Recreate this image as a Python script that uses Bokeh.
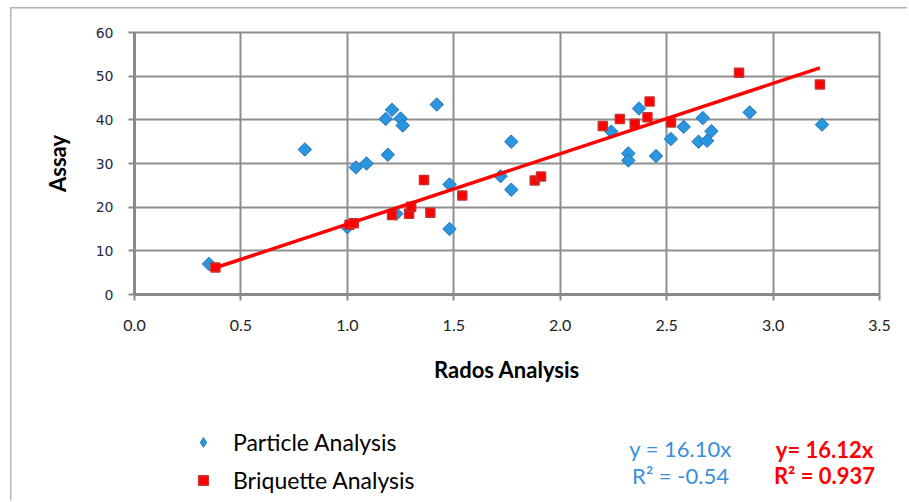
from bokeh.plotting import figure
from bokeh.layouts import column
from bokeh.models import Range1d, FixedTicker, NumeralTickFormatter, Legend, LegendItem, Label
from bokeh.embed import file_html
from bokeh.resources import INLINE
import numpy as np

# ---- data ----
particle_x = [0.35, 0.80, 1.00, 1.04, 1.09, 1.19, 1.18, 1.21, 1.25, 1.26, 1.23, 1.42,
              1.48, 1.48, 1.72, 1.77, 1.77, 2.24, 2.32, 2.32, 2.37, 2.45, 2.52, 2.58,
              2.67, 2.65, 2.69, 2.71, 2.89, 3.23]
particle_y = [7.0, 33.2, 15.4, 29.1, 30.0, 32.0, 40.2, 42.3, 40.3, 38.7, 18.5, 43.5,
              25.2, 15.0, 27.1, 35.0, 24.0, 37.3, 32.3, 30.7, 42.6, 31.7, 35.6, 38.4,
              40.4, 35.0, 35.2, 37.4, 41.7, 38.9]
briq_x = [0.38, 1.01, 1.03, 1.21, 1.29, 1.30, 1.36, 1.39, 1.54, 1.88, 1.91, 2.20,
          2.28, 2.35, 2.42, 2.41, 2.52, 2.84, 3.22]
briq_y = [6.2, 16.0, 16.3, 18.2, 18.5, 20.1, 26.2, 18.7, 22.7, 26.1, 27.0, 38.6,
          40.2, 39.1, 44.2, 40.6, 39.4, 50.8, 48.1]
briq_slope = 16.12

x_ticks = [0.0, 0.5, 1.0, 1.5, 2.0, 2.5, 3.0, 3.5]
y_ticks = [0, 10, 20, 30, 40, 50, 60]
legend_labels = ["Particle Analysis", "Briquette Analysis"]
eq_particle = ["y = 16.10x", "R\u00b2 = -0.54"]
eq_briq = ["y= 16.12x", "R\u00b2 = 0.937"]
x_title = "Rados Analysis"
y_title = "Assay"

BLUE = "#2A96E0"
BLUE_EDGE = "#2373BD"
RED = "#FF0000"
RED_EDGE = "#C8322F"
GRID = "#8f8f8f"
W = 907

p = figure(width=W, height=400, x_range=Range1d(0, 3.5), y_range=Range1d(0, 60),
           output_backend="svg", toolbar_location=None,
           min_border_left=134, min_border_right=W - 879, min_border_top=32, min_border_bottom=106)
p.background_fill_color = "white"
p.border_fill_color = None
p.outline_line_color = GRID
p.outline_line_width = 2

p.xaxis.ticker = FixedTicker(ticks=x_ticks)
p.yaxis.ticker = FixedTicker(ticks=y_ticks)
p.xgrid.ticker = FixedTicker(ticks=x_ticks)
p.ygrid.ticker = FixedTicker(ticks=y_ticks)
p.xaxis.formatter = NumeralTickFormatter(format="0.0")
for g in (p.xgrid[0], p.ygrid[0]):
    g.grid_line_color = GRID
    g.grid_line_width = 2

for ax in (p.xaxis[0], p.yaxis[0]):
    ax.axis_line_color = "#8a8a8a"
    ax.axis_line_width = 3
    ax.major_tick_line_color = "#8a8a8a"
    ax.major_tick_line_width = 2
    ax.major_tick_out = 6
    ax.major_tick_in = 0
    ax.minor_tick_line_color = None
    ax.axis_label_text_font = "Lato"
    ax.axis_label_text_font_style = "bold"
    ax.axis_label_text_font_size = "22px"
    ax.axis_label_text_color = "#000000"

p.xaxis.axis_label = x_title
p.yaxis.axis_label = y_title
p.xaxis.major_label_text_font = "Lato"
p.xaxis.major_label_text_font_size = "16px"
p.xaxis.major_label_text_color = "#222222"
p.xaxis.major_label_standoff = 19
p.xaxis.axis_label_standoff = 22
p.yaxis.major_label_text_font = "DejaVu Sans"
p.yaxis.major_label_text_font_size = "14px"
p.yaxis.major_label_text_color = "#1f2a48"
p.yaxis.major_label_standoff = 15
p.yaxis.axis_label_standoff = 22

# series
p.scatter(particle_x, particle_y, marker="square", angle=np.pi / 4, size=9.5,
          fill_color=BLUE, line_color=BLUE_EDGE, line_width=1)
p.scatter(briq_x, briq_y, marker="square", size=9,
          fill_color=RED, line_color=RED_EDGE, line_width=1.5)

# trendline of briquette series
tx = np.array([min(briq_x), max(briq_x)])
p.line(tx, briq_slope * tx, line_color=RED, line_width=3.5)

# ---- lower panel: legend and regression texts (frame aligned with the chart's) ----
H2 = 100
p2 = figure(width=W, height=H2, x_range=Range1d(0, 1), y_range=Range1d(0, 1),
            output_backend="svg", toolbar_location=None,
            x_axis_type=None, y_axis_type=None, min_border=0)
p2.outline_line_color = None
p2.grid.visible = False
p2.background_fill_color = None
p2.border_fill_color = None

leg_p = p2.scatter([np.nan], [np.nan], marker="diamond", fill_color=BLUE,
                   line_color=BLUE_EDGE, line_width=1)
leg_b = p2.scatter([np.nan], [np.nan], marker="square", fill_color=RED,
                   line_color=RED_EDGE, line_width=1.5)
legend = Legend(items=[LegendItem(label=legend_labels[0], renderers=[leg_p]),
                       LegendItem(label=legend_labels[1], renderers=[leg_b])],
                location=(57, 6), orientation="vertical",
                glyph_width=24, glyph_height=24, label_height=24, spacing=10,
                label_standoff=18, padding=0, margin=0,
                border_line_color=None, background_fill_alpha=0,
                label_text_font="Lato", label_text_font_size="23px",
                label_text_color="#000000")
p2.add_layout(legend)

for t, yy in zip(eq_particle, [52, 25]):
    p2.add_layout(Label(x=546, y=yy, x_units="screen", y_units="screen", text=t,
                        text_align="center", text_baseline="middle", text_font="Lato",
                        text_font_size="22px", text_color="#3A8FD8"))
for t, yy in zip(eq_briq, [51, 25]):
    p2.add_layout(Label(x=690, y=yy, x_units="screen", y_units="screen", text=t,
                        text_align="center", text_baseline="middle", text_font="Lato",
                        text_font_style="bold", text_font_size="22px", text_color=RED))

layout = column(p, p2, spacing=0)
layout.styles = {
    "background": "linear-gradient(#b4b4b4,#b4b4b4) 10px 7px / 1.5px 100% no-repeat, "
                  "linear-gradient(#b4b4b4,#b4b4b4) 10px 7px / 100% 1.5px no-repeat, white"
}
open("out.html", "w").write(file_html(layout, INLINE))
